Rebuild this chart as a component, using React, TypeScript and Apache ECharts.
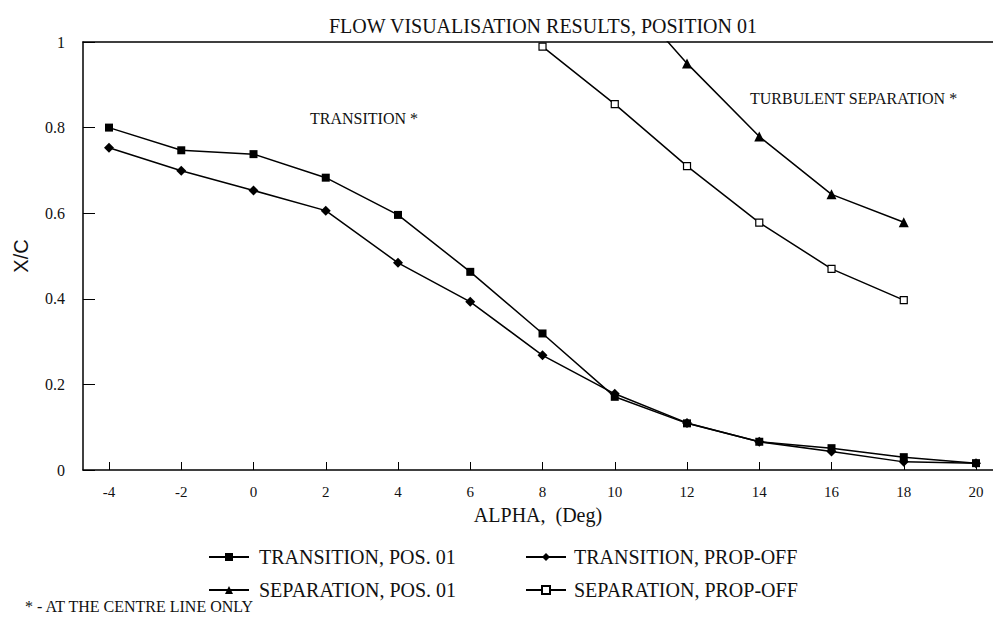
import React, { useEffect, useRef } from "react";
import * as echarts from "echarts";

const alphaTicks = [-4, -2, 0, 2, 4, 6, 8, 10, 12, 14, 16, 18, 20];
const alphaAll = [-4, -2, 0, 2, 4, 6, 8, 10, 12, 14, 16, 18, 20];
const transitionPos01 = [0.8, 0.747, 0.738, 0.683, 0.596, 0.463, 0.319, 0.171, 0.109, 0.066, 0.051, 0.03, 0.016];
const transitionPropOff = [0.753, 0.699, 0.653, 0.606, 0.484, 0.393, 0.268, 0.178, 0.11, 0.066, 0.043, 0.019, 0.016];
const sepPos01Alpha = [10, 12, 14, 16, 18];
const separationPos01 = [1.14, 0.95, 0.779, 0.644, 0.579];
const sepPropOffAlpha = [8, 10, 12, 14, 16, 18];
const separationPropOff = [0.989, 0.855, 0.71, 0.578, 0.47, 0.397];

const TITLE = "FLOW VISUALISATION RESULTS, POSITION 01";
const NAMES = [
  "TRANSITION, POS. 01",
  "TRANSITION, PROP-OFF",
  "SEPARATION, POS. 01",
  "SEPARATION, PROP-OFF",
];

const SERIF = "'Liberation Serif', 'Times New Roman', serif";
const SANS = "'Liberation Sans', Arial, sans-serif";

const zip = (xs: number[], ys: number[]) => xs.map((x, i) => [x, ys[i]]);

export default function App() {
  const ref = useRef<HTMLDivElement>(null);
  useEffect(() => {
    if (!ref.current) return;
    const chart = echarts.init(ref.current, null, { renderer: "svg" });
    const xMin = -4.72;
    const xMax = 20.47;
    const lineStyle = { color: "#000", width: 1.5 };
    const legendText = { fontFamily: SERIF, fontSize: 20, color: "#111", lineHeight: 20 };
    chart.setOption({
      animation: false,
      backgroundColor: "#fff",
      title: {
        text: TITLE,
        left: 324,
        top: 11,
        textStyle: { fontFamily: SERIF, fontSize: 20, fontWeight: "normal", color: "#111" },
      },
      grid: { left: 83, right: 0, top: 42, bottom: 147, containLabel: false },
      xAxis: [
        {
          type: "value",
          min: xMin,
          max: xMax,
          name: "ALPHA,  (Deg)",
          nameLocation: "middle",
          nameGap: 35,
          nameTextStyle: { fontFamily: SERIF, fontSize: 20, color: "#111" },
          axisLine: { show: true, onZero: false, lineStyle: { color: "#000", width: 1.5 } },
          axisTick: { show: true, inside: true, length: 8, customValues: alphaTicks, lineStyle: { color: "#000" } },
          axisLabel: { customValues: alphaTicks, margin: 14, fontFamily: SERIF, fontSize: 15, color: "#111" },
          splitLine: { show: false },
        },
        {
          type: "value",
          position: "top",
          min: xMin,
          max: xMax,
          axisLine: { show: true, onZero: false, lineStyle: { color: "#000", width: 1.5 } },
          axisTick: { show: false },
          axisLabel: { show: false },
          splitLine: { show: false },
        },
      ],
      yAxis: {
        type: "value",
        min: 0,
        max: 1,
        interval: 0.2,
        name: "X/C",
        nameLocation: "middle",
        nameGap: 52,
        nameRotate: 90,
        nameTextStyle: { fontFamily: SANS, fontSize: 20, color: "#111" },
        axisLine: { show: true, onZero: false, lineStyle: { color: "#000", width: 1.5 } },
        axisTick: { show: true, inside: true, length: 12, lineStyle: { color: "#000" } },
        axisLabel: { margin: 18, fontFamily: SERIF, fontSize: 16, color: "#111" },
        splitLine: { show: false },
      },
      legend: [
        {
          orient: "vertical",
          left: 203,
          top: 542,
          itemWidth: 40,
          itemHeight: 10,
          itemGap: 13,
          data: [NAMES[0], NAMES[2]],
          textStyle: { ...legendText, padding: [0, 0, 0, 5] },
        },
        {
          orient: "vertical",
          left: 520,
          top: 542,
          itemWidth: 40,
          itemHeight: 10,
          itemGap: 13,
          data: [NAMES[1], NAMES[3]],
          textStyle: { ...legendText, padding: [0, 0, 0, 3] },
        },
      ],
      graphic: [
        {
          type: "text",
          left: 310,
          top: 110,
          style: { text: "TRANSITION *", fontFamily: SERIF, fontSize: 16, fill: "#111" },
        },
        {
          type: "text",
          left: 750,
          top: 90,
          style: { text: "TURBULENT SEPARATION *", fontFamily: SERIF, fontSize: 16, fill: "#111" },
        },
        {
          type: "text",
          left: 25,
          top: 598,
          style: { text: "* - AT THE CENTRE LINE ONLY", fontFamily: SERIF, fontSize: 16, fill: "#111" },
        },
      ],
      series: [
        {
          name: NAMES[0],
          type: "line",
          xAxisIndex: 0,
          data: zip(alphaAll, transitionPos01),
          symbol: "rect",
          symbolSize: 8,
          itemStyle: { color: "#000" },
          lineStyle,
          clip: true,
        },
        {
          name: NAMES[1],
          type: "line",
          xAxisIndex: 0,
          data: zip(alphaAll, transitionPropOff),
          symbol: "diamond",
          symbolSize: 10,
          itemStyle: { color: "#000" },
          lineStyle,
          clip: true,
        },
        {
          name: NAMES[2],
          type: "line",
          xAxisIndex: 0,
          data: zip(sepPos01Alpha, separationPos01),
          symbol: "triangle",
          symbolSize: 10,
          itemStyle: { color: "#000" },
          lineStyle,
          clip: true,
        },
        {
          name: NAMES[3],
          type: "line",
          xAxisIndex: 0,
          data: zip(sepPropOffAlpha, separationPropOff),
          symbol: "rect",
          symbolSize: 7,
          itemStyle: { color: "#fff", borderColor: "#000", borderWidth: 1.2 },
          lineStyle,
          clip: true,
        },
      ],
    });
    return () => chart.dispose();
  }, []);
  return (
    <div
      ref={ref}
      style={{ position: "fixed", left: 0, top: 0, width: 993, height: 617, background: "#fff" }}
    />
  );
}
